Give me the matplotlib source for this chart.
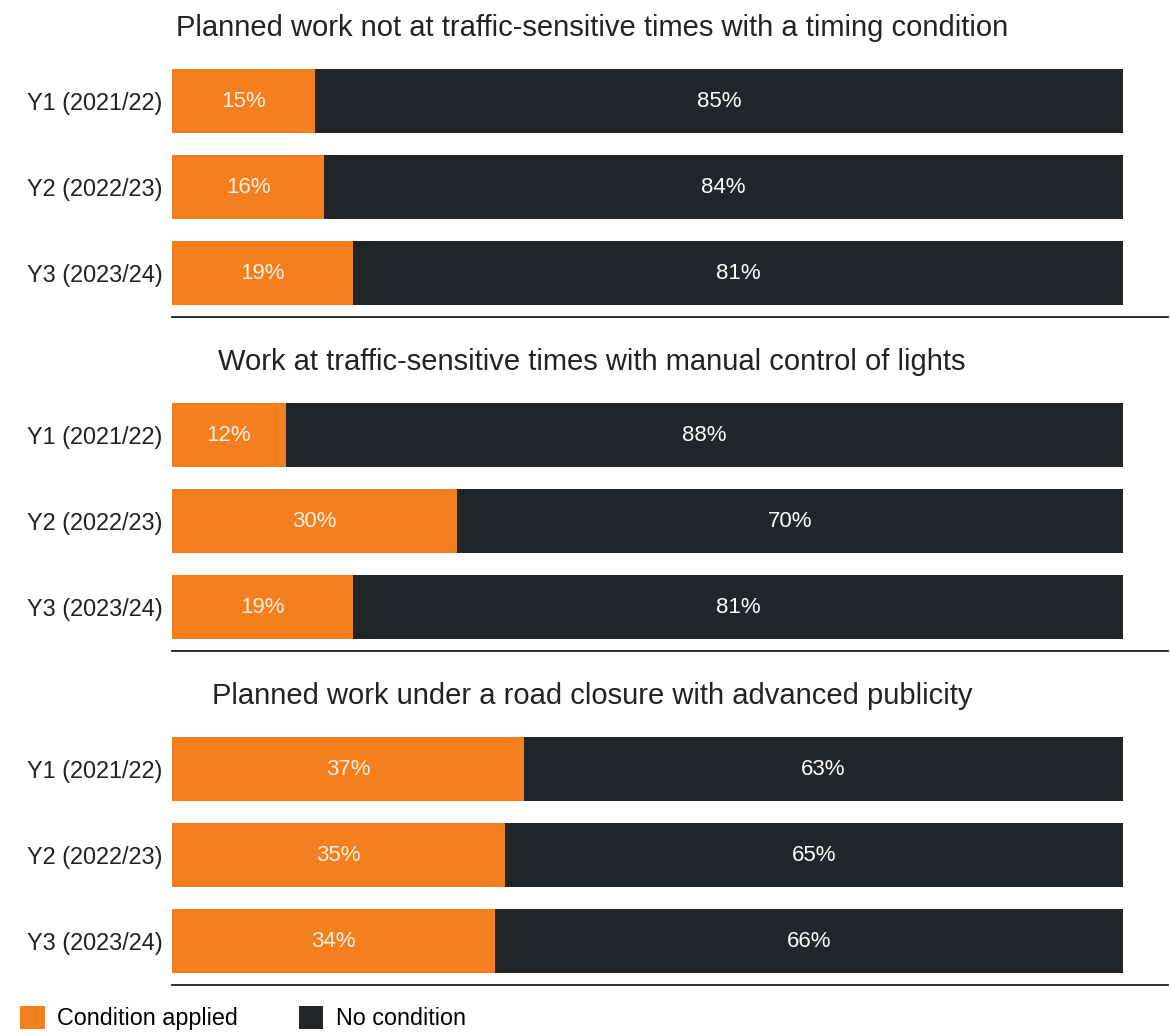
import matplotlib
matplotlib.use("Agg")
import matplotlib.pyplot as plt

plt.rcParams['font.family'] = ['Liberation Sans', 'DejaVu Sans']

years = ["Y1 (2021/22)", "Y2 (2022/23)", "Y3 (2023/24)"]
titles = [
    "Planned work not at traffic-sensitive times with a timing condition",
    "Work at traffic-sensitive times with manual control of lights",
    "Planned work under a road closure with advanced publicity",
]
applied = [
    [15, 16, 19],
    [12, 30, 19],
    [37, 35, 34],
]
no_condition = [
    [85, 84, 81],
    [88, 70, 81],
    [63, 65, 66],
]

orange = "#f47f20"
dark = "#222629"

W, H = 1171, 1034
fig = plt.figure(figsize=(W / 100, H / 100), dpi=100)

# pixel layout helpers
left, bar_right, line_right = 172, 1123, 1168
xmax = 100 * (line_right - left) / (bar_right - left)

for i in range(3):
    top = 58 + 334 * i
    bottom = 317 + 334 * i
    ax = fig.add_axes([left / W, 1 - bottom / H, (line_right - left) / W, (bottom - top) / H])
    y = list(range(3))
    b1 = ax.barh(y, applied[i], height=0.74, color=orange, label="Condition applied")
    b2 = ax.barh(y, no_condition[i], left=applied[i], height=0.74, color=dark, label="No condition")
    ax.bar_label(b1, labels=[f"{v}%" for v in applied[i]], label_type="center",
                 color="#fff0dc", fontsize=16)
    ax.bar_label(b2, labels=[f"{v}%" for v in no_condition[i]], label_type="center",
                 color="white", fontsize=16)
    ax.set_xlim(0, xmax)
    ax.set_ylim(2.51, -0.5)
    ax.set_yticks(y)
    ax.set_yticklabels(years, fontsize=16.9, color="#222")
    ax.tick_params(axis="y", length=0, pad=7)
    ax.set_xticks([])
    for s in ["top", "left", "right"]:
        ax.spines[s].set_visible(False)
    ax.spines["bottom"].set_color("#222")
    ax.spines["bottom"].set_linewidth(1.3)
    fig.text(592 / W, 1 - (top - 30) / H, titles[i], ha="center", va="center",
             fontsize=21, color="#222")

fig.legend(handles=[b1, b2], loc="center left", bbox_to_anchor=(-1 / W, 1 - 1018 / H),
           ncol=2, frameon=False, fontsize=16.8, handlelength=1.05, handleheight=1.15,
           handletextpad=0.55, columnspacing=2.6)

fig.savefig("out.png", dpi=100, facecolor="white")
